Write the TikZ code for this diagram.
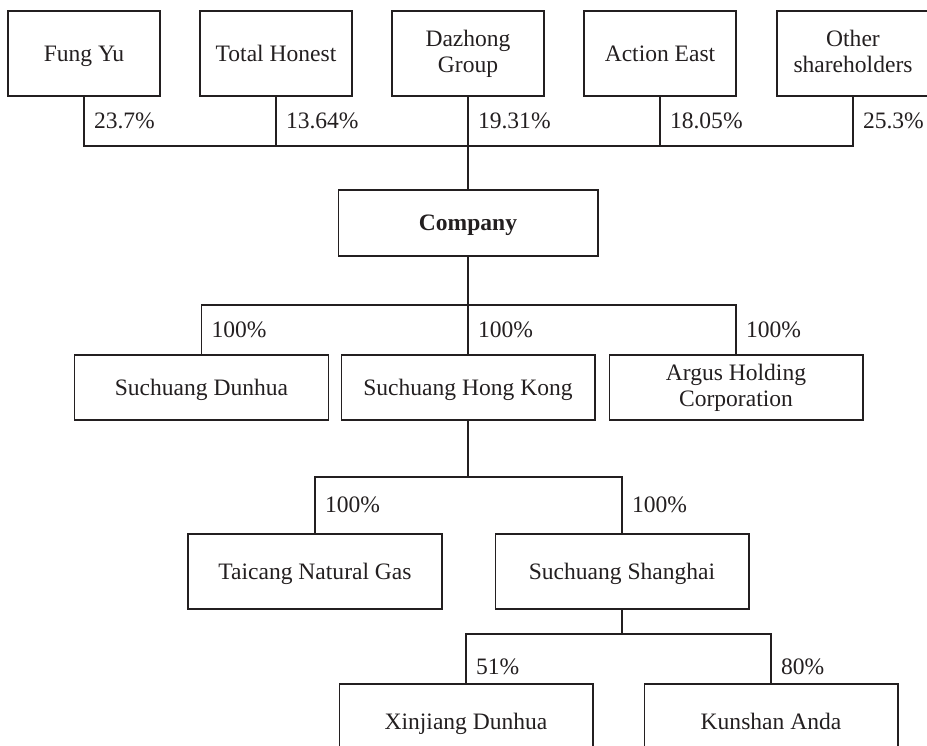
\documentclass[tikz,border=0pt]{standalone}
\usepackage{fontspec}
\setmainfont{Liberation Serif}
\definecolor{chartInk}{HTML}{231F20}
\newcommand\boxstrut{\rule[-3pt]{0pt}{14.8pt}}
\tikzset{
  % thin ink lines everywhere, text in the same ink
  every picture/.append style = {line width=0.6pt, chartInk},
  entity/.style  = {draw, chartInk, text=chartInk, inner sep=1pt, align=center,
                    font=\fontsize{13.4}{14.8}\selectfont,
                    execute at begin node=\boxstrut, execute at end node=\boxstrut},
  topbox/.style  = {entity, minimum width=3.04cm, minimum height=1.7cm},
  subbox/.style  = {entity, minimum width=5.08cm, minimum height=1.3cm},
  pct/.style     = {midway, anchor=west, inner sep=0pt, xshift=0.19cm, text=chartInk,
                    font=\fontsize{13.4}{14.8}\selectfont},
}

\begin{document}
\begin{tikzpicture}[x=0.02cm, y=-0.02cm]
  \clip (0,0) rectangle (927,746);
  % shareholders
  \node[topbox] (fungyu)  at (84,53.5)  {Fung Yu};
  \node[topbox] (honest)  at (276,53.5) {Total Honest};
  \node[topbox] (dazhong) at (468,53.5) {Dazhong\\Group};
  \node[topbox] (action)  at (660,53.5) {Action East};
  \node[topbox] (others)  at (853,53.5) {Other\\shareholders};
  % listed company
  \node[entity, minimum width=5.2cm, minimum height=1.32cm] (company) at (468,223)
    {\textbf{Company}};
  % first level subsidiaries
  \node[subbox] (dunhua) at (201.5,387.5) {Suchuang Dunhua};
  \node[subbox] (hk)     at (468,387.5)   {Suchuang Hong Kong};
  \node[subbox] (argus)  at (736,387.5)   {Argus Holding\\Corporation};
  % held through Hong Kong
  \node[subbox, minimum height=1.5cm] (taicang)  at (315,571.5) {Taicang Natural Gas};
  \node[subbox, minimum height=1.5cm] (shanghai) at (622,571.5) {Suchuang Shanghai};
  % held through Shanghai
  \node[subbox, minimum height=1.5cm] (xinjiang) at (466,721.5) {Xinjiang Dunhua};
  \node[subbox, minimum height=1.5cm] (kunshan)  at (771,721.5) {Kunshan Anda};

  % bus lines
  \coordinate (bus1) at (468,146);
  \coordinate (bus2) at (468,305);
  \coordinate (bus3) at (468,477);
  \coordinate (bus4) at (622,634);

  % shareholders -> company
  \draw (fungyu.south) |- (bus1) -| (others.south);
  \draw (honest.south) -- (honest.south |- bus1);
  \draw (action.south) -- (action.south |- bus1);
  \draw (dazhong.south) -- (company.north);
  \foreach \who/\share in {fungyu/23.7, honest/13.64, dazhong/19.31, action/18.05, others/25.3}
    \path (\who.south) -- (\who.south |- bus1) node[pct] {\share\%};

  % company -> subsidiaries
  \draw (dunhua.north) |- (bus2) -| (argus.north);
  \draw (company.south) -- (hk.north);
  \foreach \who in {dunhua, hk, argus}
    \path (\who.north) -- (\who.north |- bus2) node[pct] {100\%};

  % Hong Kong -> Taicang, Shanghai
  \draw (hk.south) -- (bus3);
  \draw (taicang.north) |- (bus3) -| (shanghai.north);
  \foreach \who in {taicang, shanghai}
    \path (\who.north) -- (\who.north |- bus3) node[pct] {100\%};

  % Shanghai -> Xinjiang, Kunshan
  \draw (shanghai.south) -- (bus4);
  \draw (xinjiang.north) |- (bus4) -| (kunshan.north);
  \path (xinjiang.north) -- (xinjiang.north |- bus4) node[pct, pos=0.34] {51\%};
  \path (kunshan.north) -- (kunshan.north |- bus4) node[pct, pos=0.34] {80\%};
\end{tikzpicture}
\end{document}
